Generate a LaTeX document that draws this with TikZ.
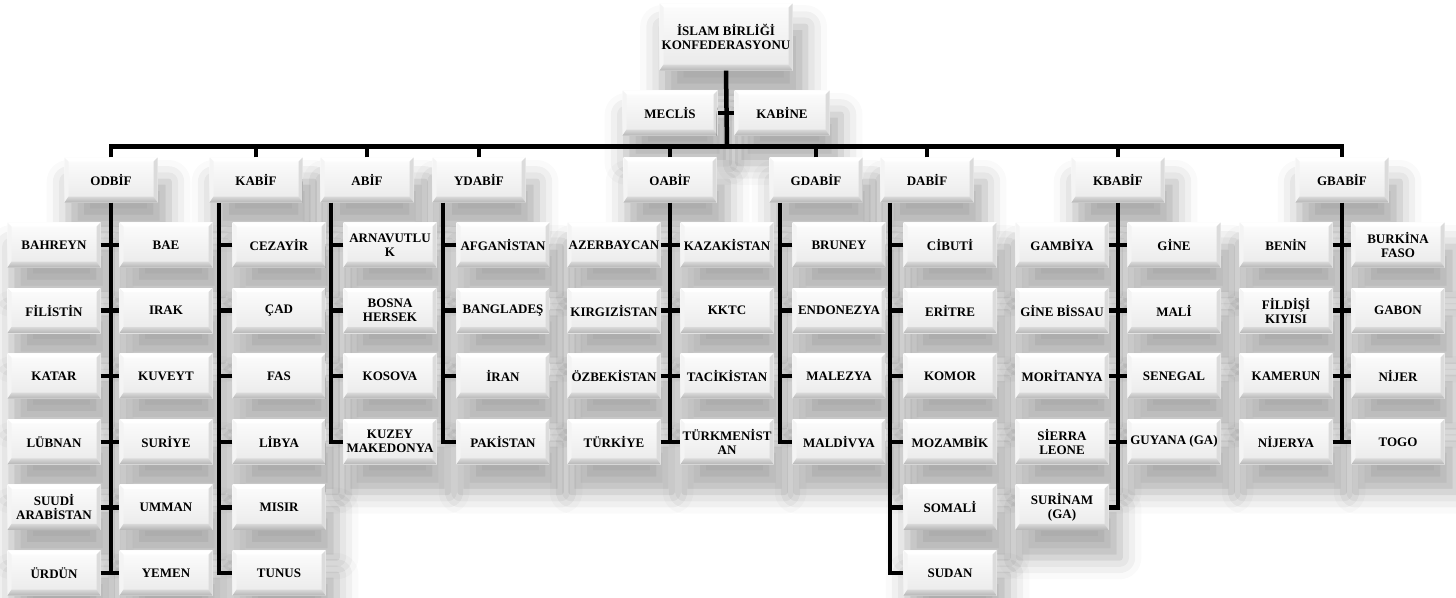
\documentclass[tikz,border=0pt]{standalone}
\usepackage{fontspec}
\setmainfont{Liberation Serif}
\usetikzlibrary{positioning,calc,shadows.blur}

\tikzset{
  box/.style={rectangle, minimum width=93pt, minimum height=45pt, inner sep=0pt,
    align=center, font=\bfseries\fontsize{13}{14}\selectfont,
    top color=gray!2, bottom color=gray!17,
    blur shadow={shadow xshift=7pt, shadow yshift=-24pt, shadow scale=1.08, shadow blur radius=20pt, shadow opacity=32},
    path picture={
      % bevel
      \fill[white] (path picture bounding box.north west) -- (path picture bounding box.north east)
        -- ([shift={(-4pt,-4pt)}]path picture bounding box.north east) -- ([shift={(4pt,-4pt)}]path picture bounding box.north west) -- cycle;
      \fill[gray!9] (path picture bounding box.north west) -- ([shift={(4pt,-4pt)}]path picture bounding box.north west)
        -- ([shift={(4pt,6pt)}]path picture bounding box.south west) -- (path picture bounding box.south west) -- cycle;
      \fill[gray!28] (path picture bounding box.north east) -- ([shift={(-4pt,-4pt)}]path picture bounding box.north east)
        -- ([shift={(-4pt,6pt)}]path picture bounding box.south east) -- (path picture bounding box.south east) -- cycle;
      \shade[top color=gray!30, bottom color=gray!58] (path picture bounding box.south west) -- ([shift={(4pt,6pt)}]path picture bounding box.south west)
        -- ([shift={(-4pt,6pt)}]path picture bounding box.south east) -- (path picture bounding box.south east) -- cycle;
    }},
  topbox/.style={box, minimum width=133pt, minimum height=67pt},
  wire/.style={line width=4.5pt, black}
}

\begin{document}
\begin{tikzpicture}[x=1pt, y=-1pt]
    \useasboundingbox (0,0) rectangle (1456,597);

    % Top
    \node[topbox] (ibk) at (726,37) {İSLAM BİRLİĞİ\\KONFEDERASYONU};
    \node[box, minimum width=95pt] (meclis) at (670,113) {MECLİS};
    \node[box, minimum width=95pt] (kabine) at (782,113) {KABİNE};
    \coordinate (bus) at (727,146.5);

    % Groups
    \node[box] (odbif) at (111,180) {ODBİF};
    \node[box] (kabif) at (256,180) {KABİF};
    \node[box] (abif) at (367,180) {ABİF};
    \node[box] (ydabif) at (479,180) {YDABİF};
    \node[box] (oabif) at (670,180) {OABİF};
    \node[box] (gdabif) at (816,180) {GDABİF};
    \node[box] (dabif) at (927,180) {DABİF};
    \node[box] (kbabif) at (1118,180) {KBABİF};
    \node[box] (gbabif) at (1342,180) {GBABİF};

    % Members, both sides
    \foreach \t [count=\i] in {BAHREYN, FİLİSTİN, KATAR, LÜBNAN, {SUUDİ\\ARABİSTAN}, ÜRDÜN}
        \node[box] (odbif-l\i) at (54,{179.4+65.6*\i}) {\t};
    \foreach \t [count=\i] in {BAE, IRAK, KUVEYT, SURİYE, UMMAN, YEMEN}
        \node[box] (odbif-r\i) at (166,{179.4+65.6*\i}) {\t};

    % Members, one side
    \foreach \t [count=\i] in {CEZAYİR, ÇAD, FAS, LİBYA, MISIR, TUNUS}
        \node[box] (kabif-\i) at (279,{179.4+65.6*\i}) {\t};
    \foreach \t [count=\i] in {{ARNAVUTLU\\K}, {BOSNA\\HERSEK}, KOSOVA, {KUZEY\\MAKEDONYA}}
        \node[box] (abif-\i) at (390,{179.4+65.6*\i}) {\t};
    \foreach \t [count=\i] in {AFGANİSTAN, BANGLADEŞ, İRAN, PAKİSTAN}
        \node[box] (ydabif-\i) at (503,{179.4+65.6*\i}) {\t};

    \foreach \t [count=\i] in {AZERBAYCAN, KIRGIZİSTAN, ÖZBEKİSTAN, TÜRKİYE}
        \node[box] (oabif-l\i) at (614,{179.4+65.6*\i}) {\t};
    \foreach \t [count=\i] in {KAZAKİSTAN, KKTC, TACİKİSTAN, {TÜRKMENİST\\AN}}
        \node[box] (oabif-r\i) at (727,{179.4+65.6*\i}) {\t};

    \foreach \t [count=\i] in {BRUNEY, ENDONEZYA, MALEZYA, MALDİVYA}
        \node[box] (gdabif-\i) at (839,{179.4+65.6*\i}) {\t};
    \foreach \t [count=\i] in {CİBUTİ, ERİTRE, KOMOR, MOZAMBİK, SOMALİ, SUDAN}
        \node[box] (dabif-\i) at (950,{179.4+65.6*\i}) {\t};

    \foreach \t [count=\i] in {GAMBİYA, GİNE BİSSAU, MORİTANYA, {SİERRA\\LEONE}, {SURİNAM\\(GA)}}
        \node[box] (kbabif-l\i) at (1062,{179.4+65.6*\i}) {\t};
    \foreach \t [count=\i] in {GİNE, MALİ, SENEGAL, GUYANA (GA)}
        \node[box] (kbabif-r\i) at (1174,{179.4+65.6*\i}) {\t};

    \foreach \t [count=\i] in {BENİN, {FİLDİŞİ\\KIYISI}, KAMERUN, NİJERYA}
        \node[box] (gbabif-l\i) at (1286,{179.4+65.6*\i}) {\t};
    \foreach \t [count=\i] in {{BURKİNA\\FASO}, GABON, NİJER, TOGO}
        \node[box] (gbabif-r\i) at (1398,{179.4+65.6*\i}) {\t};

    % Lines from the top
    \draw[wire] (ibk.south) -- (bus);
    \draw[wire] (meclis.east) -- (kabine.west);
    \draw[wire] (odbif.north) |- (bus) -| (gbabif.north);
    \foreach \n in {kabif,abif,ydabif,oabif,gdabif,dabif,kbabif}
        \draw[wire] (\n.north) -- (\n.north |- bus);

    % Trunks, both sides
    \draw[wire] (odbif.south) -- (odbif.south |- odbif-l6.center);
    \foreach \i in {1,...,6}
        \draw[wire] (odbif-l\i.east) -- (odbif-r\i.west);
    \draw[wire] (oabif.south) -- (oabif.south |- oabif-l4.center);
    \foreach \i in {1,...,4}
        \draw[wire] (oabif-l\i.east) -- (oabif-r\i.west);
    \draw[wire] (kbabif.south) |- (kbabif-l5.east);
    \foreach \i in {1,...,4}
        \draw[wire] (kbabif-l\i.east) -- (kbabif-r\i.west);
    \draw[wire] (gbabif.south) -- (gbabif.south |- gbabif-l4.center);
    \foreach \i in {1,...,4}
        \draw[wire] (gbabif-l\i.east) -- (gbabif-r\i.west);

    % Trunks, one side
    \coordinate (kabif-t) at ([xshift=-37pt]kabif.south);
    \draw[wire] (kabif-t) |- (kabif-6.west);
    \foreach \i in {1,...,5}
        \draw[wire] (kabif-\i.west) -- (kabif-\i.west -| kabif-t);
    \coordinate (abif-t) at ([xshift=-36pt]abif.south);
    \draw[wire] (abif-t) |- (abif-4.west);
    \foreach \i in {1,...,3}
        \draw[wire] (abif-\i.west) -- (abif-\i.west -| abif-t);
    \coordinate (ydabif-t) at ([xshift=-36pt]ydabif.south);
    \draw[wire] (ydabif-t) |- (ydabif-4.west);
    \foreach \i in {1,...,3}
        \draw[wire] (ydabif-\i.west) -- (ydabif-\i.west -| ydabif-t);
    \coordinate (gdabif-t) at ([xshift=-36pt]gdabif.south);
    \draw[wire] (gdabif-t) |- (gdabif-4.west);
    \foreach \i in {1,...,3}
        \draw[wire] (gdabif-\i.west) -- (gdabif-\i.west -| gdabif-t);
    \coordinate (dabif-t) at ([xshift=-37pt]dabif.south);
    \draw[wire] (dabif-t) |- (dabif-6.west);
    \foreach \i in {1,...,5}
        \draw[wire] (dabif-\i.west) -- (dabif-\i.west -| dabif-t);

\end{tikzpicture}
\end{document}
